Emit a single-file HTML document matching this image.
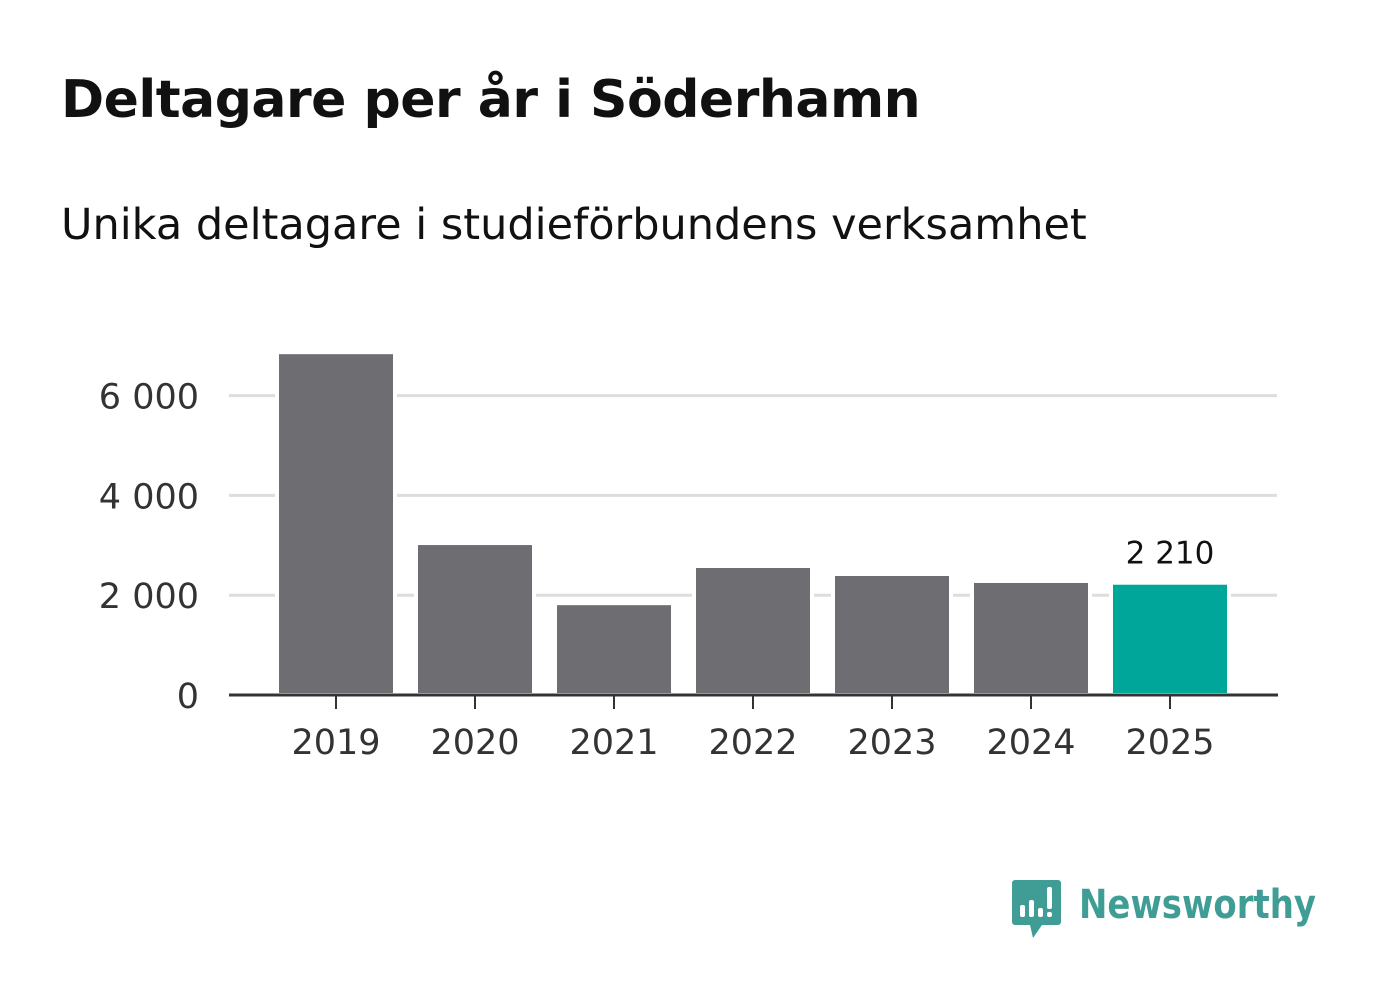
<!DOCTYPE html>
<html><head><meta charset="utf-8"><style>
body{margin:0;background:#fff;font-family:"DejaVu Sans","Liberation Sans",sans-serif;}
#wrap{position:relative;width:1382px;height:999px;overflow:hidden;}
h1{position:absolute;left:61px;top:70px;margin:0;font-size:52px;font-weight:bold;color:#111;letter-spacing:-0.5px;}
.sub{position:absolute;left:61px;top:200px;font-size:43px;color:#111;}
svg{position:absolute;left:0;top:0;}
</style></head><body><div id="wrap">
<h1>Deltagare per år i Söderhamn</h1>
<div class="sub">Unika deltagare i studieförbundens verksamhet</div>
<svg id="c" width="1382" height="999"></svg>
</div>
<script>
const categories=["2019","2020","2021","2022","2023","2024","2025"];
const values=[6830,3005,1800,2545,2385,2245,2210];
const yTicks=[0,2000,4000,6000];
const yTickLabels=["0","2 000","4 000","6 000"];
const NS="http://www.w3.org/2000/svg";
const svg=document.getElementById('c');
const y0=695,k=99.8/2000;
const y=v=>y0-v*k;
const x=i=>336+i*139;
function el(t,a,txt){const e=document.createElementNS(NS,t);for(const n in a)e.setAttribute(n,a[n]);if(txt!=null)e.textContent=txt;svg.appendChild(e);return e;}
yTicks.forEach((t,i)=>{
 if(t>0){const g=el('line',{x1:229,x2:1277,y1:y(t),y2:y(t),stroke:'#dddddd','stroke-width':3});
 
 }
 const l=el('text',{x:199,y:y(t)+13,'text-anchor':'end','font-size':35,fill:'#333'},yTickLabels[i]);
 
 
});
values.forEach((v,i)=>{
 const last=i===values.length-1;
 const b=el('rect',{x:x(i)-59,y:y(v)-2,width:118,height:y0-y(v)+2,fill:last?'#00a699':'#6e6d72',stroke:'#fff','stroke-width':4});
 
 
 el('line',{x1:x(i),x2:x(i),y1:y0,y2:y0+14,stroke:'#333','stroke-width':2});
 const t=el('text',{x:x(i),y:754,'text-anchor':'middle','font-size':35,fill:'#333'},categories[i]);
 
 
 if(last){const vl=el('text',{x:x(i),y:y(v)-21,'text-anchor':'middle','font-size':31,fill:'#111'},'2 210');
 
 }
});
const ax=el('line',{x1:229,x2:1278,y1:y0,y2:y0,stroke:'#333','stroke-width':3});


const g=document.createElementNS(NS,'g');


svg.appendChild(g);
g.innerHTML='<path d="M1015 880 h43 a3 3 0 0 1 3 3 v39 a3 3 0 0 1-3 3 h-16 l-9 13 l-3-13 h-15 a3 3 0 0 1-3-3 v-39 a3 3 0 0 1 3-3z" fill="#3f9d96"/>'+
'<rect x="1020" y="905" width="5" height="12" rx="2" fill="#fff"/><rect x="1029" y="900" width="5" height="17" rx="2" fill="#fff"/><rect x="1038" y="908" width="5" height="9" rx="2" fill="#fff"/><rect x="1047" y="887" width="5" height="22" rx="2" fill="#fff"/><rect x="1047" y="912" width="5" height="5" rx="2" fill="#fff"/>'+
'<text x="1079" y="918" font-size="40" font-weight="bold" fill="#3f9d96" textLength="237" lengthAdjust="spacingAndGlyphs">Newsworthy</text>';
</script></body></html>
